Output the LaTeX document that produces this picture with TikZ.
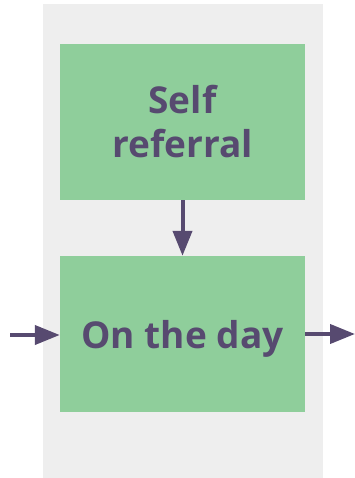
\documentclass[tikz,border=0pt]{standalone}
\usepackage{fontspec}
\setmainfont{Open Sans}
\usetikzlibrary{arrows.meta,positioning}
\definecolor{boxgreen}{HTML}{8FCE9B}
\definecolor{ink}{HTML}{574A70}
\definecolor{panel}{HTML}{EEEEEE}

\begin{document}
\begin{tikzpicture}[x=1pt,y=-1pt,
  box/.style={fill=boxgreen, minimum width=245pt, minimum height=156pt, inner sep=0pt,
    text=ink, align=center, font=\bfseries\fontsize{37}{44}\selectfont},
  flow/.style={draw=ink, line width=4pt, -{Triangle[length=25pt,width=19pt]}}]
\useasboundingbox (0,0) rectangle (355,478);
\fill[panel] (43,4) rectangle (323,478);
\node[box] (self) at (182.5,122) {Self\\referral};
\node[box, text depth=0pt] (day) at (182.5,334) {On the day};
\coordinate (in) at (10,335);
\coordinate (out) at (355,334);
\draw[flow] (self) -- (day);
\draw[flow] (in) -- (day.west |- in);
\draw[flow] (day.east |- out) -- (out);
\end{tikzpicture}
\end{document}
